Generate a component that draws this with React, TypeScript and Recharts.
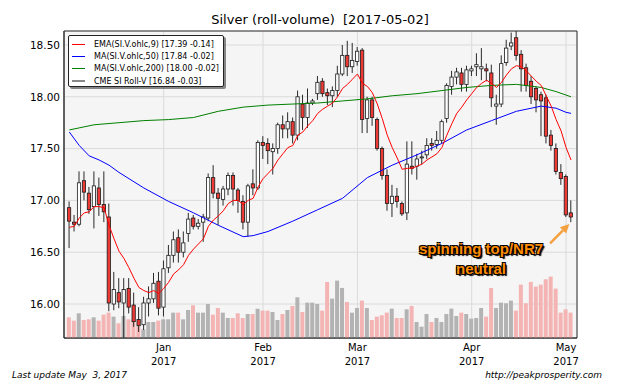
import React from 'react';
import {
  ComposedChart,
  Bar,
  Line,
  XAxis,
  YAxis,
  CartesianGrid,
  Cell,
  ReferenceArea,
  ReferenceLine,
} from 'recharts';

// daily OHLC, Dec 2016 .. May 2 2017 (one entry per session)
const opens = [
  16.93, 16.79, 16.77, 17.19, 17.07, 16.94, 17.12, 16.96, 16.84, 16.0,
  16.11, 16.01, 16.15, 15.99, 15.85, 15.8, 16.01, 16.05, 16.22, 15.97,
  16.35, 16.47, 16.64, 16.5, 16.68, 16.83, 16.75, 16.79, 16.83, 17.22,
  17.07, 17.01, 17.11, 17.24, 17.1, 16.99, 16.79, 17.16, 17.12, 17.56,
  17.55, 17.47, 17.5, 17.73, 17.69, 17.76, 17.63, 17.93, 17.8, 17.94,
  18.03, 18.15, 18.04, 18.01, 18.06, 18.22, 18.4, 18.29, 18.34, 18.45,
  17.79, 17.97, 17.78, 17.5, 17.24, 16.97, 17.04, 16.97, 16.88, 17.33,
  17.33, 17.41, 17.44, 17.55, 17.54, 17.58, 17.79, 18.1, 18.19, 18.23,
  18.12, 18.25, 18.29, 18.27, 18.27, 18.23, 17.91, 17.93, 18.33, 18.49,
  18.57, 18.41, 18.28, 18.15, 18.08, 18.02, 17.99, 17.63, 17.5, 17.27,
  17.23, 16.88,
];
const highs = [
  16.99, 16.86, 17.28, 17.28, 17.13, 17.28, 17.22, 17.28, 16.97, 16.31,
  16.25, 16.25, 16.25, 16.11, 15.97, 16.07, 16.17, 16.3, 16.31, 16.42,
  16.57, 16.7, 16.72, 16.7, 16.88, 16.86, 16.82, 16.87, 17.26, 17.34,
  17.12, 17.14, 17.27, 17.27, 17.12, 17.05, 17.16, 17.3, 17.58, 17.62,
  17.6, 17.55, 17.75, 17.82, 17.85, 17.8, 18.06, 18.02, 18.08, 17.98,
  18.2, 18.18, 18.08, 18.1, 18.3, 18.5, 18.54, 18.52, 18.48, 18.47,
  18.0, 18.0, 17.8, 17.52, 17.3, 17.15, 17.12, 16.99, 17.57, 17.57,
  17.45, 17.48, 17.6, 17.6, 17.67, 17.78, 18.13, 18.25, 18.28, 18.28,
  18.3, 18.3, 18.42, 18.47, 18.32, 18.31, 18.02, 18.4, 18.55, 18.62,
  18.66, 18.45, 18.32, 18.2, 18.1, 18.05, 18.02, 17.68, 17.55, 17.35,
  17.25, 17.0,
];
const lows = [
  16.54, 16.7, 16.75, 17.0, 16.87, 16.73, 16.85, 16.79, 15.93, 15.94,
  15.96, 15.55, 15.91, 15.78, 15.73, 15.75, 15.88, 16.01, 15.89, 15.88,
  16.3, 16.4, 16.4, 16.45, 16.6, 16.72, 16.72, 16.6, 16.8, 17.02,
  16.76, 16.95, 17.05, 16.95, 16.88, 16.72, 16.65, 17.05, 17.1, 17.4,
  17.35, 17.25, 17.45, 17.6, 17.6, 17.55, 17.58, 17.68, 17.7, 17.92,
  17.97, 18.0, 17.92, 17.9, 18.0, 18.2, 18.2, 18.23, 18.3, 17.65,
  17.65, 17.72, 17.48, 17.2, 16.9, 16.84, 16.93, 16.85, 16.81, 17.25,
  17.2, 17.35, 17.4, 17.48, 17.5, 17.55, 17.75, 18.02, 18.12, 18.05,
  18.05, 18.2, 18.2, 18.16, 18.15, 17.9, 17.73, 17.9, 18.3, 18.45,
  18.35, 18.05, 18.05, 17.93, 17.85, 17.62, 17.55, 17.48, 17.25, 17.15,
  16.84, 16.79,
];
const closes = [
  16.8, 16.77, 17.17, 17.08, 16.91, 17.14, 16.96, 16.89, 16.01, 16.14,
  16.02, 16.14, 15.97, 15.83, 15.79, 16.01, 16.05, 16.2, 15.96, 16.34,
  16.47, 16.62, 16.5, 16.59, 16.82, 16.75, 16.78, 16.84, 17.22, 17.07,
  17.02, 17.11, 17.24, 17.11, 17.0, 16.79, 17.14, 17.12, 17.56, 17.53,
  17.48, 17.5, 17.73, 17.69, 17.76, 17.63, 18.0, 17.8, 17.94, 17.96,
  18.14, 18.03, 18.01, 18.06, 18.22, 18.4, 18.29, 18.35, 18.44, 17.78,
  17.97, 17.8, 17.5, 17.24, 16.97, 17.04, 16.99, 16.87, 17.35, 17.31,
  17.4, 17.42, 17.53, 17.53, 17.58, 17.76, 18.11, 18.19, 18.24, 18.12,
  18.26, 18.27, 18.31, 18.29, 18.25, 17.99, 17.93, 18.32, 18.47, 18.52,
  18.4, 18.27, 18.11, 18.0, 17.97, 17.96, 17.62, 17.53, 17.28, 17.21,
  16.86, 16.84,
];
// thousand contracts
const volumes = [
  31, 26, 37, 27, 28, 31, 26, 35, 38, 32, 22, 33, 28, 27, 17, 13, 24, 24, 26, 28,
  28, 38, 38, 28, 42, 49, 38, 38, 51, 35, 45, 38, 30, 30, 37, 30, 36, 36, 44, 41,
  41, 39, 27, 36, 42, 48, 61, 39, 53, 53, 51, 41, 84, 59, 86, 75, 54, 38, 45, 56,
  45, 27, 32, 34, 38, 44, 30, 30, 43, 48, 24, 17, 36, 24, 30, 24, 36, 44, 33, 38,
  36, 29, 30, 45, 32, 75, 45, 53, 52, 56, 41, 80, 52, 84, 77, 80, 88, 92, 74, 38,
  43, 38,
];
const ema9 = [
  16.74, 16.75, 16.83, 16.88, 16.89, 16.94, 16.94, 16.93, 16.76, 16.63,
  16.51, 16.44, 16.35, 16.25, 16.16, 16.13, 16.11, 16.13, 16.1, 16.15,
  16.21, 16.29, 16.33, 16.38, 16.47, 16.53, 16.58, 16.63, 16.75, 16.81,
  16.85, 16.9, 16.97, 17.0, 17.0, 16.96, 17.0, 17.02, 17.13, 17.21,
  17.26, 17.31, 17.39, 17.45, 17.51, 17.53, 17.63, 17.66, 17.72, 17.77,
  17.84, 17.88, 17.91, 17.94, 18.0, 18.08, 18.12, 18.17, 18.22, 18.13,
  18.1, 18.04, 17.93, 17.79, 17.63, 17.51, 17.41, 17.3, 17.31, 17.31,
  17.33, 17.35, 17.39, 17.42, 17.45, 17.51, 17.63, 17.74, 17.84, 17.9,
  17.97, 18.03, 18.09, 18.13, 18.16, 18.13, 18.09, 18.14, 18.21, 18.27,
  18.3, 18.29, 18.25, 18.2, 18.15, 18.11, 18.01, 17.91, 17.78, 17.67,
  17.51, 17.39,
];
const ma50Index = [0, 2, 4, 6, 8, 10, 15, 20, 25, 30, 35, 37, 40, 45, 50, 55, 60, 65, 70, 75, 80, 85, 90, 95, 98, 100, 101];
const ma50Values = [
  17.66, 17.53, 17.43, 17.39, 17.34, 17.27, 17.12, 16.99, 16.88, 16.76, 16.65, 16.66, 16.7, 16.8,
  16.91, 17.02, 17.22, 17.34, 17.44, 17.55, 17.68, 17.77, 17.86, 17.91, 17.89, 17.85, 17.84,
];
const ma200Index = [0, 5, 10, 15, 20, 25, 30, 35, 40, 45, 50, 55, 60, 65, 70, 75, 80, 85, 90, 95, 98, 101];
const ma200Values = [
  17.68, 17.73, 17.75, 17.77, 17.78, 17.8, 17.86, 17.9, 17.92, 17.93, 17.94,
  17.96, 17.98, 18.01, 18.03, 18.06, 18.09, 18.11, 18.12, 18.09, 18.05, 18.0,
];

const monthTicks = [19, 39, 58, 81, 100];
const monthLabels = ['Jan', 'Feb', 'Mar', 'Apr', 'May'];
const yearLabel = '2017';
const priceTicks = [16, 16.5, 17, 17.5, 18, 18.5];
const legendItems = [
  { name: 'EMA(SI.V.ohlc,9) [17.39 -0.14]', color: '#ff0000', w: 1.2 },
  { name: 'MA(SI.V.ohlc,50) [17.84 -0.02]', color: '#0000ff', w: 1.2 },
  { name: 'MA(SI.V.ohlc,200) [18.00 -0.02]', color: '#008000', w: 1.2 },
  { name: 'CME SI Roll-V [16.84 -0.03]', color: '#888888', w: 2 },
];

const X_DOMAIN: [number, number] = [-1.07, 102.2];
const Y_DOMAIN: [number, number] = [15.672, 18.635];
const RED = '#ee3a35';

const rows = opens.map((o, i) => {
  const k50 = ma50Index.indexOf(i);
  const k200 = ma200Index.indexOf(i);
  return {
    i,
    o,
    h: highs[i],
    l: lows[i],
    c: closes[i],
    vol: volumes[i],
    ema: ema9[i],
    ma50: k50 >= 0 ? ma50Values[k50] : null,
    ma200: k200 >= 0 ? ma200Values[k200] : null,
  };
});

function Candle(props: any) {
  const { x, y, width, height, payload } = props;
  if (!payload || x == null) return null;
  const { o, h, l, c } = payload;
  const top = Math.min(y, y + height);
  const span = Math.abs(height);
  const k = h - l > 0 ? span / (h - l) : 0;
  const yOf = (v: number) => top + (h - v) * k;
  const cx = x + width / 2;
  const bodyTop = yOf(Math.max(o, c));
  const bodyH = Math.max(1, yOf(Math.min(o, c)) - bodyTop);
  return (
    <g>
      <line x1={cx} x2={cx} y1={top} y2={top + span} stroke="#2a2a2a" strokeWidth={1} />
      <rect
        x={x + 0.6}
        y={bodyTop}
        width={width - 1.2}
        height={bodyH}
        fill={c < o ? RED : '#ffffff'}
        stroke="#1a1a1a"
        strokeWidth={0.8}
      />
    </g>
  );
}

function MonthTick(props: any) {
  const { x, y, index } = props;
  return (
    <g transform={`translate(${x},${y})`}>
      <text textAnchor="middle" fontSize={10} fill="#000" fontFamily="DejaVu Sans">
        <tspan x={0} dy={5}>{monthLabels[index]}</tspan>
        <tspan x={0} dy={14}>{yearLabel}</tspan>
      </text>
    </g>
  );
}

function Arrow(props: any) {
  const { x1, y1, x2, y2 } = props;
  if (x1 == null) return null;
  const ang = Math.atan2(y2 - y1, x2 - x1);
  const len = 9;
  const hw = 4.5;
  const bx = x2 - len * Math.cos(ang);
  const by = y2 - len * Math.sin(ang);
  const px = -Math.sin(ang) * hw;
  const py = Math.cos(ang) * hw;
  return (
    <g>
      <line x1={x1} y1={y1} x2={bx} y2={by} stroke="#f5a040" strokeWidth={2.5} />
      <polygon
        points={`${x2},${y2} ${bx + px},${by + py} ${bx - px},${by - py}`}
        fill="#f5a040"
      />
    </g>
  );
}

const outline =
  '-1px -1px 0 #000, 1px -1px 0 #000, -1px 1px 0 #000, 1px 1px 0 #000, 2px 2px 1px #000';

export default function App() {
  return (
    <div
      style={{
        position: 'absolute',
        left: 0,
        top: 0,
        width: 640,
        height: 384,
        background: '#fff',
        fontFamily: 'DejaVu Sans',
      }}
    >
      <ComposedChart
        width={640}
        height={384}
        data={rows}
        margin={{ top: 31, right: 63, bottom: 0, left: 0 }}
      >
        <CartesianGrid stroke="#dadada" fill="#f5f5f5" />
        <XAxis
          dataKey="i"
          type="number"
          domain={X_DOMAIN}
          ticks={monthTicks}
          allowDataOverflow
          height={46}
          tickLine={false}
          axisLine={{ stroke: '#333' }}
          tick={<MonthTick />}
          interval={0}
        />
        <XAxis xAxisId="vol" dataKey="i" type="number" domain={X_DOMAIN} allowDataOverflow hide />
        <YAxis
          type="number"
          domain={Y_DOMAIN}
          ticks={priceTicks}
          allowDataOverflow
          width={64}
          tickLine={false}
          tickSize={3}
          tickMargin={1}
          axisLine={{ stroke: '#333' }}
          tickFormatter={(v: number) => v.toFixed(2)}
          tick={{ fontSize: 10.5, fill: '#000', fontFamily: 'DejaVu Sans' }}
        />
        <YAxis yAxisId="vol" type="number" domain={[0, 460]} hide />
        <Bar
          dataKey="vol"
          xAxisId="vol"
          yAxisId="vol"
          barSize={4}
          isAnimationActive={false}
        >
          {rows.map((r) => (
            <Cell key={r.i} fill={r.c < r.o ? '#f4b4b4' : '#b3b3b3'} />
          ))}
        </Bar>
        <Bar
          dataKey={(d: any) => [d.l, d.h]}
          barSize={5}
          isAnimationActive={false}
          shape={(p: any) => <Candle {...p} />}
        />
        <Line
          dataKey="ma200"
          type="linear"
          stroke="#008000"
          strokeWidth={1}
          dot={false}
          connectNulls
          isAnimationActive={false}
        />
        <Line
          dataKey="ma50"
          type="linear"
          stroke="#0000ff"
          strokeWidth={1}
          dot={false}
          connectNulls
          isAnimationActive={false}
        />
        <Line
          dataKey="ema"
          type="linear"
          stroke="#ff0000"
          strokeWidth={1}
          dot={false}
          isAnimationActive={false}
        />
        <ReferenceArea
          x1={X_DOMAIN[0]}
          x2={X_DOMAIN[1]}
          y1={Y_DOMAIN[0]}
          y2={Y_DOMAIN[1]}
          fill="none"
          stroke="#333"
          strokeWidth={1}
          ifOverflow="visible"
        />
        <ReferenceLine
          segment={[
            { x: 96.78, y: 16.586 },
            { x: 100.66, y: 16.772 },
          ]}
          ifOverflow="visible"
          shape={(p: any) => <Arrow {...p} />}
        />
      </ComposedChart>

      <div
        style={{
          position: 'absolute',
          left: 0,
          width: 640,
          top: 12,
          textAlign: 'center',
          fontSize: 13,
          lineHeight: '16px',
          color: '#000',
          whiteSpace: 'pre',
        }}
      >
        {'Silver (roll-volume)  [2017-05-02]'}
      </div>

      <div
        style={{
          position: 'absolute',
          left: 68,
          top: 35,
          width: 154,
          height: 50,
          background: '#fff',
          border: '1px solid #222',
          borderRadius: 2,
          boxShadow: '2px 2px 0 rgba(0,0,0,0.45)',
        }}
      >
        {legendItems.map((it, k) => (
          <div
            key={it.name}
            style={{
              position: 'absolute',
              left: 3,
              top: 2 + k * 12.4,
              height: 12,
              display: 'flex',
              alignItems: 'center',
              whiteSpace: 'nowrap',
              fontSize: 8,
              color: '#000',
            }}
          >
            <span
              style={{
                display: 'inline-block',
                width: 13,
                height: 0,
                borderTop: `${it.w}px solid ${it.color}`,
                marginRight: 9,
              }}
            />
            {it.name}
          </div>
        ))}
      </div>

      <div
        style={{
          position: 'absolute',
          left: 381,
          width: 200,
          top: 239,
          textAlign: 'center',
          fontFamily: 'Liberation Sans',
          fontWeight: 'bold',
          fontSize: 15,
          lineHeight: '20px',
          color: '#ff8c00',
          textShadow: outline,
        }}
      >
        <div>spinning top/NR7</div>
        <div>neutral</div>
      </div>

      <div
        style={{
          position: 'absolute',
          left: 12,
          top: 370,
          fontSize: 9,
          fontStyle: 'italic',
          color: '#000',
          whiteSpace: 'pre',
        }}
      >
        {'Last update May  3, 2017'}
      </div>
      <div
        style={{
          position: 'absolute',
          right: 38,
          top: 370,
          fontSize: 9,
          fontStyle: 'italic',
          color: '#000',
        }}
      >
        http://peakprosperity.com
      </div>
    </div>
  );
}
